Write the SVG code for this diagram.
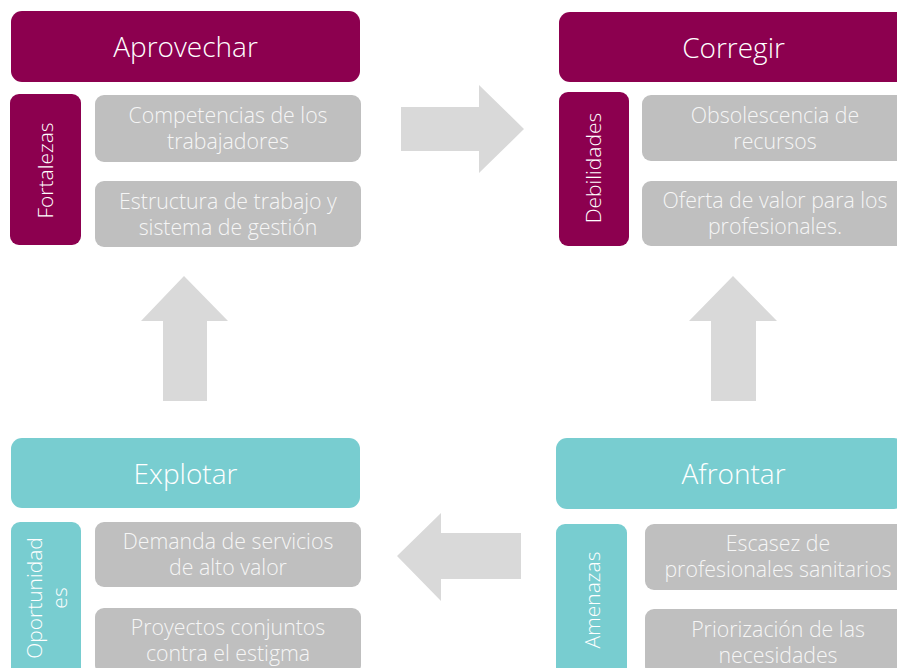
<svg xmlns="http://www.w3.org/2000/svg" width="897" height="668" viewBox="0 0 897 668">
<style>
.bg{fill:#ffffff}
.p{fill:#8C004F}
.t{fill:#78CDD0}
.g{fill:#BFBFBF}
.arr{fill:#D9D9D9}
.h{font-family:"Open Sans","Noto Sans","Liberation Sans",sans-serif;font-size:28px;font-weight:300;fill:#ffffff;text-anchor:middle}
.b{font-family:"Open Sans","Noto Sans","Liberation Sans",sans-serif;font-size:21.3px;font-weight:300;fill:#F6F6F6;text-anchor:middle}
.v{font-family:"Open Sans","Noto Sans","Liberation Sans",sans-serif;font-size:21px;font-weight:300;fill:#ffffff;text-anchor:middle}
</style>
<rect class="bg" x="0" y="0" width="897" height="668"/>
<g id="aprovechar">
<rect class="p" x="11" y="11" width="349" height="71" rx="11"/>
<text class="h" x="185.5" y="57">Aprovechar</text>
</g>
<g id="fortalezas">
<rect class="p" x="10" y="94" width="71" height="151" rx="9"/>
<text class="v" transform="translate(46,170.5) rotate(-90)" y="7">Fortalezas</text>
</g>
<g id="f1">
<rect class="g" x="95" y="95" width="266" height="67" rx="9"/>
<text class="b" x="228" y="123">Competencias de los</text>
<text class="b" x="228" y="149">trabajadores</text>
</g>
<g id="f2">
<rect class="g" x="95" y="181" width="266" height="66" rx="9"/>
<text class="b" x="228" y="209">Estructura de trabajo y</text>
<text class="b" x="228" y="235">sistema de gestión</text>
</g>
<g id="corregir">
<rect class="p" x="559" y="12" width="349" height="70" rx="11"/>
<text class="h" x="733.5" y="58">Corregir</text>
</g>
<g id="debilidades">
<rect class="p" x="559" y="92" width="70" height="154" rx="9"/>
<text class="v" transform="translate(594,168) rotate(-90)" y="7">Debilidades</text>
</g>
<g id="d1">
<rect class="g" x="642" y="95" width="266" height="66" rx="9"/>
<text class="b" x="775" y="123">Obsolescencia de</text>
<text class="b" x="775" y="149">recursos</text>
</g>
<g id="d2">
<rect class="g" x="642" y="181" width="266" height="65" rx="9"/>
<text class="b" x="775" y="208">Oferta de valor para los</text>
<text class="b" x="775" y="234">profesionales.</text>
</g>
<g id="explotar">
<rect class="t" x="11" y="438" width="349" height="70" rx="11"/>
<text class="h" x="185.5" y="484">Explotar</text>
</g>
<g id="oportunidades">
<rect class="t" x="11" y="522" width="70" height="154" rx="9"/>
<text class="v" transform="translate(0,598) rotate(-90)" y="42">Oportunidad</text>
<text class="v" transform="translate(0,598) rotate(-90)" y="67">es</text>
</g>
<g id="o1">
<rect class="g" x="95" y="522" width="266" height="65" rx="9"/>
<text class="b" x="228" y="549">Demanda de servicios</text>
<text class="b" x="228" y="575">de alto valor</text>
</g>
<g id="o2">
<rect class="g" x="95" y="608" width="266" height="66" rx="9"/>
<text class="b" x="228" y="635">Proyectos conjuntos</text>
<text class="b" x="228" y="661">contra el estigma</text>
</g>
<g id="afrontar">
<rect class="t" x="556" y="438" width="349" height="71" rx="11"/>
<text class="h" x="733.5" y="484">Afrontar</text>
</g>
<g id="amenazas">
<rect class="t" x="556" y="524" width="71" height="154" rx="9"/>
<text class="v" transform="translate(593,600) rotate(-90)" y="7">Amenazas</text>
</g>
<g id="a1">
<rect class="g" x="645" y="524" width="266" height="66" rx="9"/>
<text class="b" x="778" y="551">Escasez de</text>
<text class="b" x="778" y="577">profesionales sanitarios</text>
</g>
<g id="a2">
<rect class="g" x="645" y="609" width="266" height="66" rx="9"/>
<text class="b" x="778" y="637">Priorización de las</text>
<text class="b" x="778" y="663">necesidades</text>
</g>
<g id="connectors">
<polygon class="arr" points="401,107 479,107 479,85 524,129 479,173 479,151 401,151"/>
<polygon class="arr" points="521,533 441,533 441,513 397,556 441,601 441,579 521,579"/>
<polygon class="arr" points="163,401 163,321 141,321 184,276 228,321 207,321 207,401"/>
<polygon class="arr" points="711,401 711,321 689,321 733,276 777,321 756,321 756,401"/>
</g>
</svg>
